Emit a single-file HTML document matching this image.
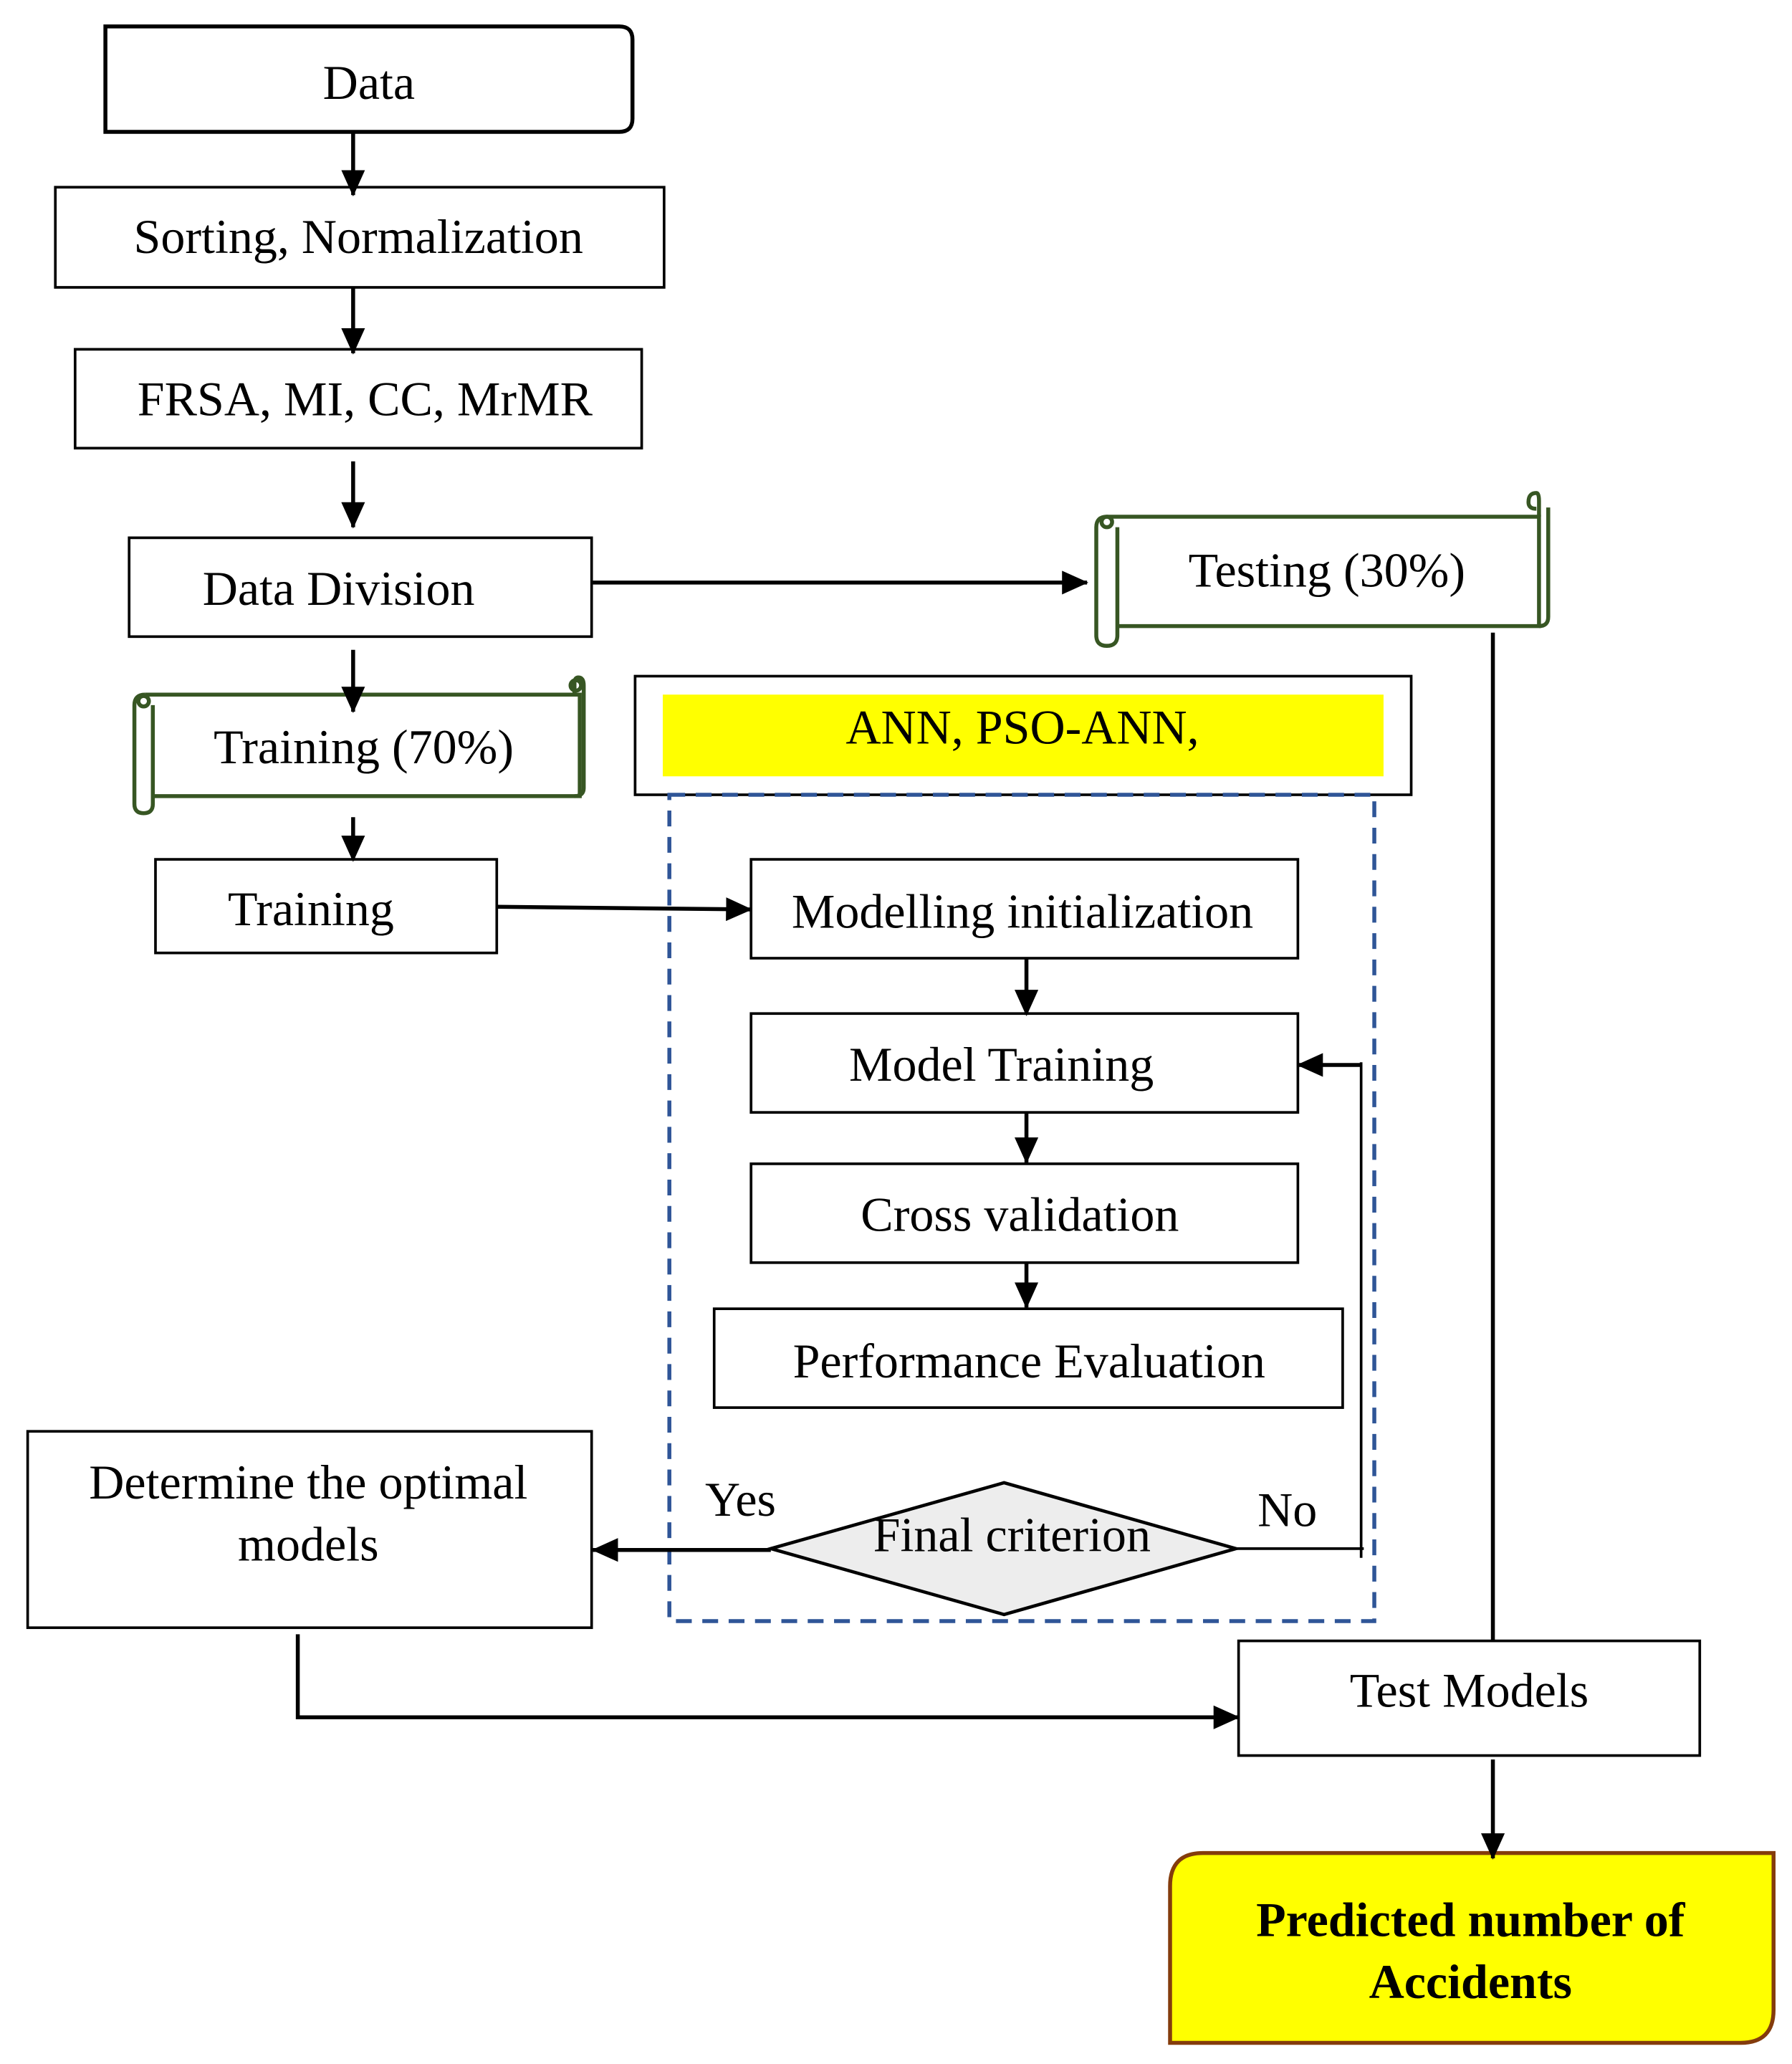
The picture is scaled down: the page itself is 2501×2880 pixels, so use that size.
<!DOCTYPE html>
<html><head><meta charset="utf-8"><style>
html,body{margin:0;padding:0;background:#fff;}
svg{display:block;}
text{font-family:"Liberation Serif",serif;font-size:37px;fill:#000;}
</style></head><body>
<svg width="2501" height="2880" viewBox="0 0 1360 1566" xmlns="http://www.w3.org/2000/svg">
<defs>
<marker id="ah" markerWidth="20" markerHeight="18" refX="19" refY="9" orient="auto" markerUnits="userSpaceOnUse" viewBox="0 0 20 18">
<path d="M0,0 L20,9 L0,18 z" fill="#000"/></marker>
</defs>
<rect width="1360" height="1566" fill="#fff"/>
<g stroke="#000" fill="none" stroke-width="3">
<path d="M80,20 H470 Q480,20 480,30 V90 Q480,100 470,100 H80 Z"/>
</g>
<g stroke="#000" fill="none" stroke-width="2">
<rect x="42" y="142" width="462" height="76"/>
<rect x="57" y="265" width="430" height="75"/>
<rect x="98" y="408" width="351" height="75"/>
<rect x="118" y="652" width="259" height="71"/>
<rect x="482" y="513" width="589" height="90"/>
<rect x="570" y="652" width="415" height="75"/>
<rect x="570" y="769" width="415" height="75"/>
<rect x="570" y="883" width="415" height="75"/>
<rect x="542" y="993" width="477" height="75"/>
<rect x="21" y="1086" width="428" height="149"/>
<rect x="940" y="1245" width="350" height="87"/>
</g>
<rect x="503" y="527" width="547" height="62" fill="#ffff00"/>
<rect x="508" y="603" width="535" height="627" fill="none" stroke="#2F5597" stroke-width="3" stroke-dasharray="12,8"/>
<g stroke="#375623" fill="none" stroke-width="3">
<path d="M840,392 H1168 V475 H848"/>
<path d="M840,392 Q832,392 832,400 V482 Q832,490 840,490 Q848,490 848,482 V400"/>
<circle cx="840" cy="396" r="4"/>
<path d="M1168,392 V380 Q1168,374 1166,374 Q1160,374 1160,381 Q1160,386 1166,386"/>
<path d="M1175,385 V468 Q1175,475 1168,475"/>
<path d="M110,527 H440 V604 H116"/>
<path d="M110,527 Q102,527 102,535 V610 Q102,617 109,617 Q116,617 116,610 V535"/>
<circle cx="109" cy="532" r="4"/>
<path d="M436,527 V518 Q436,514 439,514 Q443,514 443,520 V598 Q443,604 436,604"/>
<circle cx="437" cy="520" r="4"/>
</g>
<path d="M585,1175 L762,1125 L938,1175 L762,1225 Z" fill="#ededed" stroke="#000" stroke-width="2.5"/>
<path d="M913,1406 H1346 V1525 Q1346,1550 1321,1550 H888 V1431 Q888,1406 913,1406 Z" fill="#ffff00" stroke="#843C0C" stroke-width="3"/>
<g stroke="#000" stroke-width="3" fill="none" marker-end="url(#ah)">
<line x1="268" y1="100" x2="268" y2="148"/>
<line x1="268" y1="218" x2="268" y2="268"/>
<line x1="268" y1="350" x2="268" y2="400"/>
<line x1="450" y1="442" x2="825" y2="442"/>
<line x1="268" y1="493" x2="268" y2="540"/>
<line x1="268" y1="620" x2="268" y2="653"/>
<line x1="377" y1="688" x2="570" y2="690"/>
<line x1="779" y1="727" x2="779" y2="770"/>
<line x1="779" y1="844" x2="779" y2="882"/>
<line x1="779" y1="958" x2="779" y2="992"/>
<line x1="1033" y1="808" x2="985" y2="808"/>
<line x1="585" y1="1176" x2="450" y2="1176"/>
<path d="M226,1240 V1303 H940"/>
<line x1="1133" y1="1335" x2="1133" y2="1410"/>
</g>
<g stroke="#000" stroke-width="2" fill="none">
<line x1="1033" y1="806" x2="1033" y2="1182"/>
<line x1="938" y1="1175" x2="1035" y2="1175"/>
<line x1="1133" y1="480" x2="1133" y2="1245" stroke-width="3"/>
</g>
<g text-anchor="middle">
<text x="280" y="75">Data</text>
<text x="272" y="192">Sorting, Normalization</text>
<text x="277" y="315">FRSA, MI, CC, MrMR</text>
<text x="257" y="459">Data Division</text>
<text x="1007" y="445">Testing (30%)</text>
<text x="276" y="579">Training (70%)</text>
<text x="236" y="702">Training</text>
<text x="776" y="564">ANN, PSO-ANN,</text>
<text x="776" y="704">Modelling initialization</text>
<text x="760" y="820">Model Training</text>
<text x="774" y="934">Cross validation</text>
<text x="781" y="1045">Performance Evaluation</text>
<text x="768" y="1177">Final criterion</text>
<text x="562" y="1150">Yes</text>
<text x="977" y="1158">No</text>
<text x="234" y="1137">Determine the optimal</text>
<text x="234" y="1184">models</text>
<text x="1115" y="1295">Test Models</text>
<text x="1116" y="1469" font-weight="bold">Predicted number of</text>
<text x="1116" y="1516" font-weight="bold">Accidents</text>
</g>
</svg>
</body></html>
